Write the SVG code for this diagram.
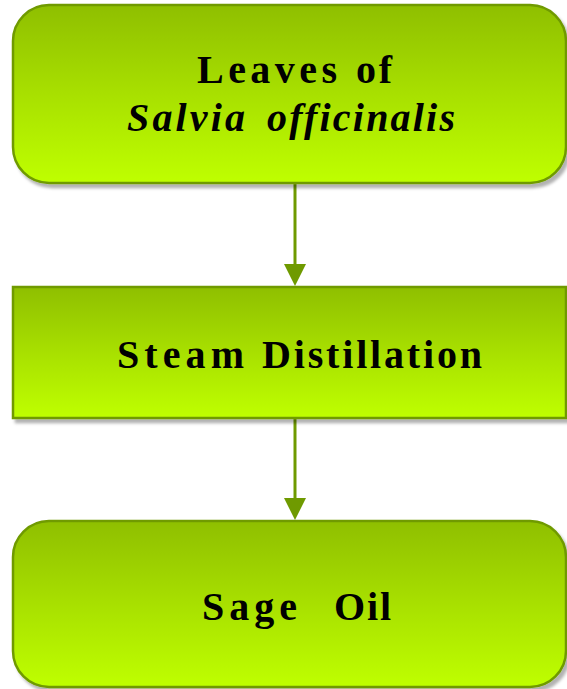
<svg xmlns="http://www.w3.org/2000/svg" width="567" height="689" viewBox="0 0 567 689">
  <defs>
    <linearGradient id="g" x1="0" y1="0" x2="0" y2="1">
      <stop offset="0" stop-color="#8fbf00"/>
      <stop offset="0.5" stop-color="#a8e000"/>
      <stop offset="1" stop-color="#bfff00"/>
    </linearGradient>
    <filter id="sh" x="-5%" y="-5%" width="115%" height="120%">
      <feDropShadow dx="3" dy="4" stdDeviation="1.5" flood-color="#000" flood-opacity="0.3"/>
    </filter>
    <style>
      .box { fill: url(#g); stroke: #6f9a00; stroke-width: 2.5; filter: url(#sh); }
      .t { font-family: "Liberation Serif", "Times New Roman", serif; font-weight: bold; font-size: 40px; fill: #000; }
      .it { font-style: italic; }
      .con { stroke: #6f9a00; stroke-width: 3; fill: none; }
      .head { fill: #6f9a00; }
    </style>
  </defs>
  <rect width="567" height="689" fill="#fff"/>
  <g id="connectors">
    <line class="con" x1="295" y1="184" x2="295" y2="266"/>
    <polygon class="head" points="284,264 306,264 295,286"/>
    <line class="con" x1="295" y1="419" x2="295" y2="500"/>
    <polygon class="head" points="284,498 306,498 295,520"/>
  </g>
  <g id="node-leaves">
    <rect class="box" x="13" y="5" width="553" height="178" rx="36" ry="36"/>
    <text class="t" y="83"><tspan x="197" textLength="140" lengthAdjust="spacing">Leaves</tspan> <tspan x="356" textLength="36" lengthAdjust="spacing">of</tspan></text>
    <text class="t it" y="131"><tspan x="127" textLength="118" lengthAdjust="spacing">Salvia</tspan> <tspan x="267" textLength="188" lengthAdjust="spacing">officinalis</tspan></text>
  </g>
  <g id="node-steam">
    <rect class="box" x="13" y="287" width="553" height="131"/>
    <text class="t" y="368"><tspan x="117" textLength="127" lengthAdjust="spacing">Steam</tspan> <tspan x="262" textLength="220" lengthAdjust="spacing">Distillation</tspan></text>
  </g>
  <g id="node-oil">
    <rect class="box" x="13" y="521" width="553" height="166" rx="36" ry="36"/>
    <text class="t" y="620"><tspan x="202" textLength="95" lengthAdjust="spacing">Sage</tspan> <tspan x="334" textLength="57" lengthAdjust="spacing">Oil</tspan></text>
  </g>
</svg>
